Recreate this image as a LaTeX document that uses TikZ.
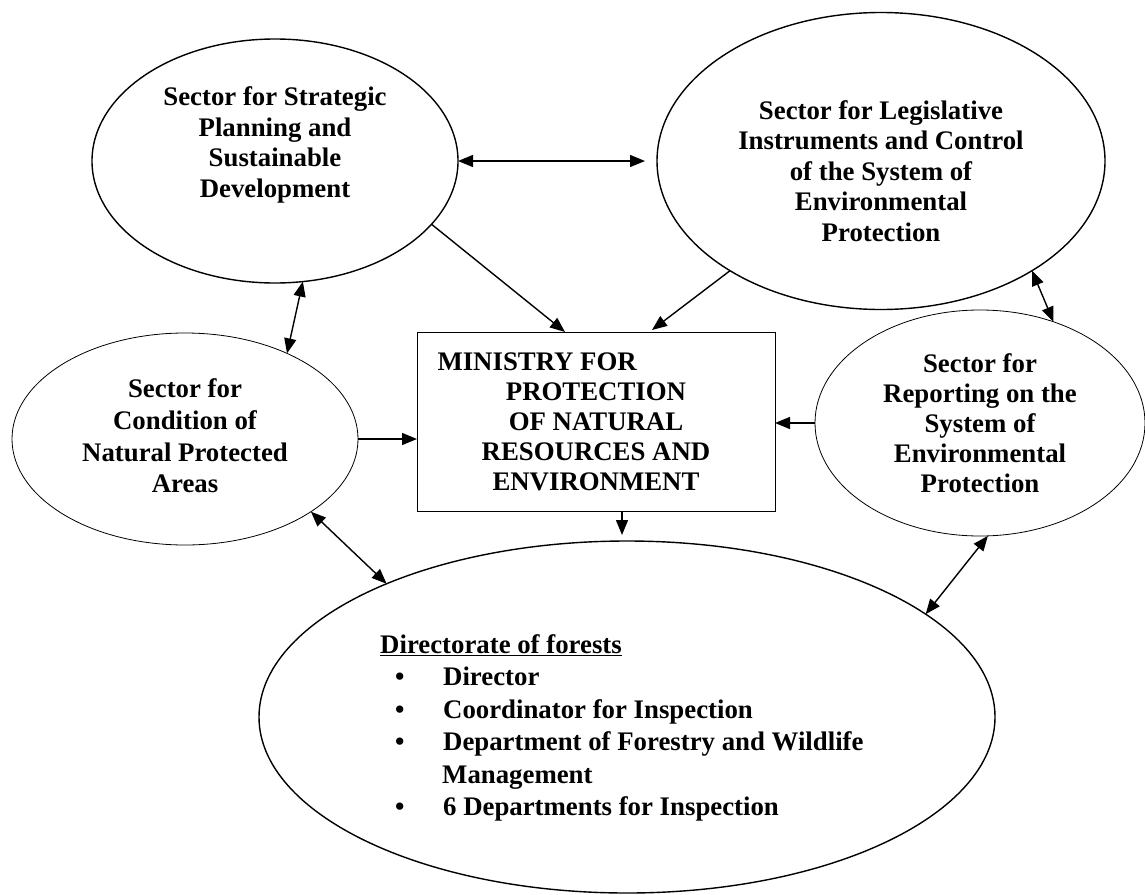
\documentclass[tikz,border=0pt]{standalone}
\usepackage{fontspec}
\setmainfont{Liberation Serif}
\usetikzlibrary{shapes.geometric,arrows.meta,calc}
\begin{document}
\begin{tikzpicture}[x=1pt,y=-1pt,
  ell/.style={draw, ellipse, inner sep=0pt, outer sep=0pt},
  thickell/.style={ell, line width=1.4pt},
  thinell/.style={ell, line width=0.8pt},
  lbl/.style={align=center, inner sep=0pt, font=\fontsize{26.8}{30.5}\selectfont\bfseries},
  tip/.tip={Triangle[length=15pt,width=12pt]},
  arr/.style={line width=1.4pt, -tip},
  dbl/.style={line width=1.4pt, tip-tip},
]
\useasboundingbox (0,0) rectangle (1145,894);

% ellipses
\node[thickell, minimum width=366pt, minimum height=244pt] (e1) at (275,161) {};
\node[thickell, minimum width=448pt, minimum height=297pt] (e2) at (881,161) {};
\node[thinell, minimum width=346pt, minimum height=212pt] (e3) at (185,439) {};
\node[thinell, minimum width=330pt, minimum height=226pt] (e4) at (980,423) {};
\node[thickell, minimum width=736pt, minimum height=352pt] (dir) at (627,717) {};

% texts
\node[lbl] (t1) at (275,145) {Sector for Strategic\\Planning and\\Sustainable\\Development};
\node[lbl] (t2) at (881,171) {Sector for Legislative\\Instruments and Control\\of the System of\\Environmental\\Protection};
\node[lbl, font=\fontsize{26.8}{31.7}\selectfont\bfseries] (t3) at (185,436) {Sector for\\Condition of\\Natural Protected\\Areas};
\node[lbl, font=\fontsize{26.8}{30}\selectfont\bfseries] (t4) at (980,423) {Sector for\\Reporting on the\\System of\\Environmental\\Protection};

% ministry box
\node[draw, line width=0.8pt, minimum width=358pt, minimum height=179pt, inner sep=0pt, outer sep=0pt,
      align=center, font=\fontsize{26.8}{30}\selectfont\bfseries] (box) at (596,421.5)
  {\makebox[317pt][l]{MINISTRY FOR}\\PROTECTION\\OF NATURAL\\RESOURCES AND\\ENVIRONMENT};

% directorate text
\node[anchor=west, align=left, inner sep=0pt, font=\fontsize{26.8}{32.5}\selectfont\bfseries] (dirtext) at (380,728)
  {\underline{Directorate of forests}\\
   \makebox[63pt][l]{\hspace*{15pt}\textbullet}Director\\
   \makebox[63pt][l]{\hspace*{15pt}\textbullet}Coordinator for Inspection\\
   \makebox[63pt][l]{\hspace*{15pt}\textbullet}Department of Forestry and Wildlife\\
   \hspace*{62pt}Management\\
   \makebox[63pt][l]{\hspace*{15pt}\textbullet}6 Departments for Inspection};

% connectors
\draw[dbl, shorten >=12pt] (e1.east) -- (e2.west);
\draw[arr] (e1.-22.3) -- ($(box.north)+(-31,0)$);
\draw[arr] (e2.-144.8) -- ($(box.north)+(56,-2)$);
\draw[dbl] (e1.-77) -- (e3.40.3);
\draw[arr] (e3.east) -- (e3.east -| box.west);
\draw[arr] (e4.west) -- (e4.west -| box.east);
\coordinate (bs) at ($(box.south)+(26,0)$);
\draw[arr, shorten >=6pt] (bs) -- (bs |- dir.north);
\draw[dbl] (e3.-30.2) -- (dir.151.3);
\draw[dbl] (e4.-86.5) -- (dir.19.5);
\draw[dbl] (e2.-36.6) -- (e4.54.2);
\end{tikzpicture}
\end{document}
